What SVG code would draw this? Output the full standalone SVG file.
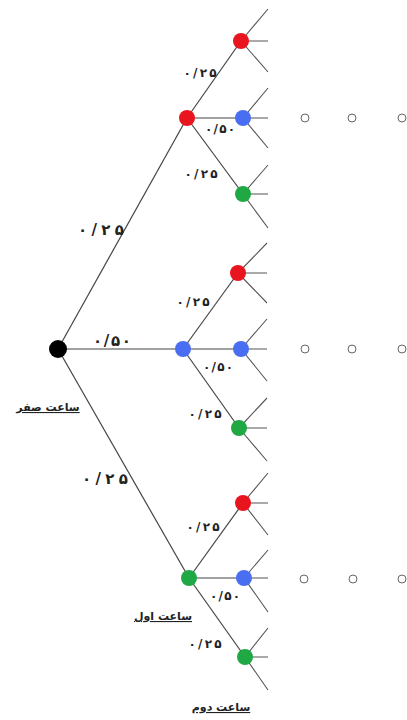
<svg xmlns="http://www.w3.org/2000/svg" width="407" height="720" viewBox="0 0 407 720">
<style>
.e{stroke:#444;stroke-width:1.2;fill:none}
.f{stroke:#555;stroke-width:1.1;fill:none}
.r{fill:#e8141e}.b{fill:#4a6ef2}.g{fill:#1fa843}
.p{font-family:"DejaVu Sans",sans-serif;font-weight:bold;font-size:12px;fill:#222;text-anchor:middle}
.P{font-family:"DejaVu Sans",sans-serif;font-weight:bold;font-size:15px;fill:#222;text-anchor:middle}
.t{font-family:"DejaVu Sans",sans-serif;font-weight:bold;font-size:11px;fill:#222;text-anchor:middle;text-decoration:underline}
.o{fill:none;stroke:#666;stroke-width:1}
</style>
<rect width="407" height="720" fill="#fff"/>
<g id="connectors">
<line class="e" x1="58" y1="349" x2="187" y2="118"/>
<line class="e" x1="58" y1="349" x2="183" y2="349"/>
<line class="e" x1="58" y1="349" x2="189" y2="578"/>
<line class="e" x1="187" y1="118" x2="241" y2="41"/>
<line class="e" x1="187" y1="118" x2="243" y2="118"/>
<line class="e" x1="187" y1="118" x2="243" y2="194"/>
<line class="e" x1="183" y1="349" x2="238" y2="273"/>
<line class="e" x1="183" y1="349" x2="241" y2="349"/>
<line class="e" x1="183" y1="349" x2="239" y2="428"/>
<line class="e" x1="189" y1="578" x2="243" y2="503"/>
<line class="e" x1="189" y1="578" x2="244" y2="578"/>
<line class="e" x1="189" y1="578" x2="245" y2="657"/>
<g id="fans">
<path class="f" d="M241 41L268 9M241 41H268M241 41L268 72"/>
<path class="f" d="M243 118L268 88M243 118H268M243 118L268 148"/>
<path class="f" d="M243 194L268 165M243 194H268M243 194L268 228"/>
<path class="f" d="M238 273L267 243M238 273H267M238 273L267 303"/>
<path class="f" d="M241 349L267 319M241 349H267M241 349L267 381"/>
<path class="f" d="M239 428L267 398M239 428H267M239 428L267 461"/>
<path class="f" d="M243 503L268 473M243 503H268M243 503L268 535"/>
<path class="f" d="M244 578L268 550M244 578H268M244 578L268 612"/>
<path class="f" d="M245 657L268 628M245 657H268M245 657L268 690"/>
</g>
</g>
<g id="root"><circle cx="58" cy="349" r="9" fill="#000"/></g>
<g id="n1r"><circle class="r" cx="187" cy="118" r="8"/></g>
<g id="n1b"><circle class="b" cx="183" cy="349" r="8"/></g>
<g id="n1g"><circle class="g" cx="189" cy="578" r="8"/></g>
<g id="n2rr"><circle class="r" cx="241" cy="41" r="8"/></g>
<g id="n2rb"><circle class="b" cx="243" cy="118" r="8"/></g>
<g id="n2rg"><circle class="g" cx="243" cy="194" r="8"/></g>
<g id="n2br"><circle class="r" cx="238" cy="273" r="8"/></g>
<g id="n2bb"><circle class="b" cx="241" cy="349" r="8"/></g>
<g id="n2bg"><circle class="g" cx="239" cy="428" r="8"/></g>
<g id="n2gr"><circle class="r" cx="243" cy="503" r="8"/></g>
<g id="n2gb"><circle class="b" cx="244" cy="578" r="8"/></g>
<g id="n2gg"><circle class="g" cx="245" cy="657" r="8"/></g>
<g id="dots">
<circle class="o" cx="305" cy="118" r="4"/><circle class="o" cx="352" cy="118" r="4"/><circle class="o" cx="402" cy="118" r="4"/>
<circle class="o" cx="305" cy="349" r="4"/><circle class="o" cx="352" cy="349" r="4"/><circle class="o" cx="402" cy="349" r="4"/>
<circle class="o" cx="304" cy="579" r="4"/><circle class="o" cx="353" cy="579" r="4"/><circle class="o" cx="402" cy="579" r="4"/>
</g>
<g id="labels">
<text class="P" x="101" y="235" textLength="46" lengthAdjust="spacing">۰/۲۵</text>
<text class="P" x="112" y="346" textLength="38" lengthAdjust="spacing">۰/۵۰</text>
<text class="P" x="105" y="484" textLength="46" lengthAdjust="spacing">۰/۲۵</text>
<text class="p" x="200" y="77" textLength="33" lengthAdjust="spacing">۰/۲۵</text>
<text class="p" x="220" y="133" textLength="30" lengthAdjust="spacing">۰/۵۰</text>
<text class="p" x="201" y="178" textLength="33" lengthAdjust="spacing">۰/۲۵</text>
<text class="p" x="193" y="306" textLength="33" lengthAdjust="spacing">۰/۲۵</text>
<text class="p" x="218" y="371" textLength="30" lengthAdjust="spacing">۰/۵۰</text>
<text class="p" x="205" y="418" textLength="33" lengthAdjust="spacing">۰/۲۵</text>
<text class="p" x="203" y="531" textLength="33" lengthAdjust="spacing">۰/۲۵</text>
<text class="p" x="225" y="600" textLength="30" lengthAdjust="spacing">۰/۵۰</text>
<text class="p" x="205" y="648" textLength="33" lengthAdjust="spacing">۰/۲۵</text>
<text class="t" x="48" y="411" direction="rtl">ساعت صفر</text>
<text class="t" x="163" y="620" direction="rtl">ساعت اول</text>
<text class="t" x="221" y="711" direction="rtl">ساعت دوم</text>
</g>
</svg>
